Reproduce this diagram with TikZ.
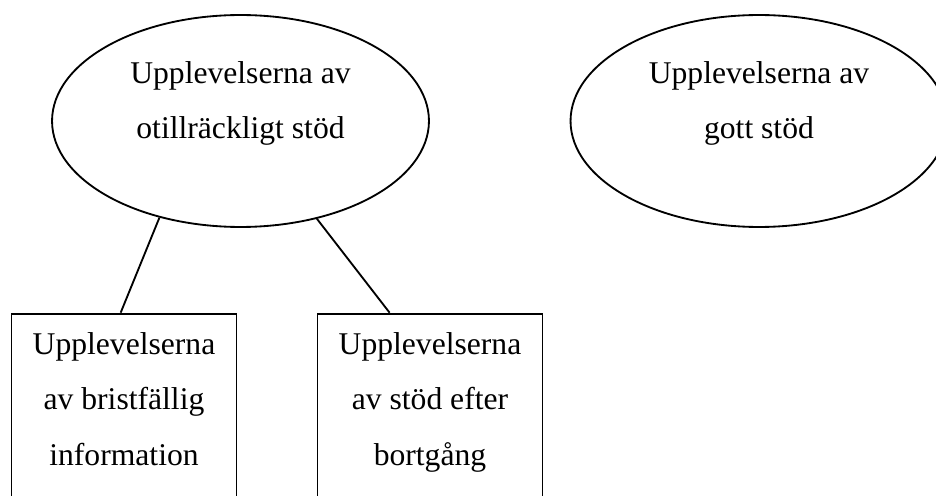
\documentclass[tikz,border=0pt]{standalone}
\usepackage{fontspec}
\setmainfont{Liberation Serif}
\usetikzlibrary{shapes.geometric}

\begin{document}
\begin{tikzpicture}[x=0.02cm,y=-0.02cm,line width=1.05pt,
        bubble/.style={draw,ellipse,minimum width=7.54cm,minimum height=4.24cm},
        kasse/.style={draw,rectangle,minimum width=4.5cm,minimum height=4cm,anchor=north},
        txt/.style={align=center,anchor=north,inner sep=0pt,font=\fontsize{18pt}{31.5pt}\selectfont}]
            \useasboundingbox (0,0) rectangle (936,496);

            % ellipser
            \node (otill) [bubble] at (240.5,121) {};
            \node (gott) [bubble] at (759,121) {};
            \node (otilltxt) [txt] at (240.5,60.3) {Upplevelserna av\\otillräckligt stöd};
            \node (gotttxt) [txt] at (759,60.3) {Upplevelserna av\\gott stöd};

            % rutor
            \node (info) [kasse] at (124,312.7) {};
            \node (bort) [kasse] at (430,312.7) {};
            \node (infotxt) [txt] at (124,331.6) {Upplevelserna\\av bristfällig\\information};
            \node (borttxt) [txt] at (430,331.6) {Upplevelserna\\av stöd efter\\bortgång};

            \draw (otill.230) -- ([xshift=-1.9pt]info.north);
            \draw (otill.308) -- ([xshift=-23pt]bort.north);
        \end{tikzpicture}
\end{document}
